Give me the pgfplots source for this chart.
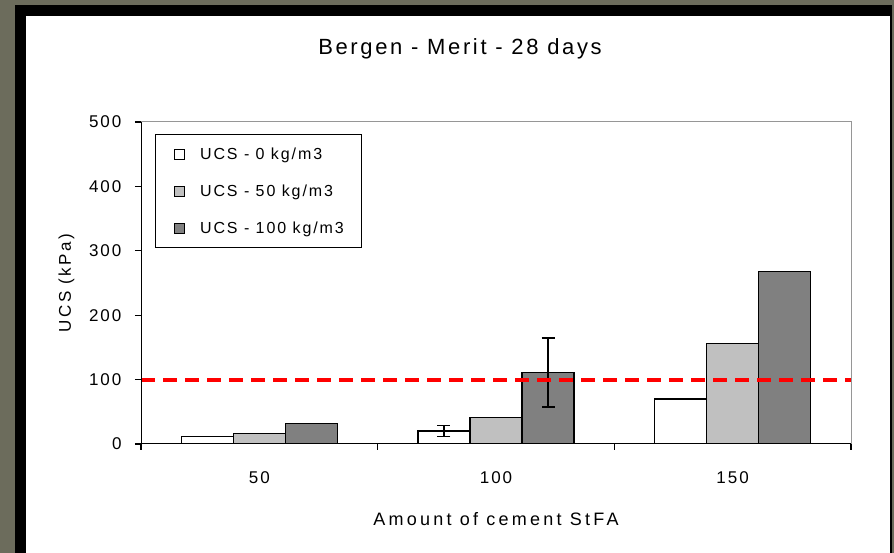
\documentclass[border=0pt]{standalone}
\usepackage{pgfplots}
\pgfplotsset{compat=1.18}
\usepackage{fontspec}
\setmainfont{Liberation Sans}[LetterSpace=12]
\definecolor{frameolive}{RGB}{108,108,92}
\definecolor{lgray}{RGB}{192,192,192}
\definecolor{dgray}{RGB}{128,128,128}
\definecolor{bordgray}{RGB}{150,150,150}
\pgfplotsset{sqlegend/.style={legend image code/.code={\draw[##1,line width=0.9pt] (0pt,-5pt) rectangle (10pt,5pt); \path[draw=none,fill=none] (0pt,0pt) -- (26pt,0pt);}}}
\begin{document}
\begin{tikzpicture}[x=1pt,y=1pt]
\fill[frameolive] (0,0) rectangle (894,553);
\fill[black] (15,0) rectangle (892,548);
\fill[white] (26,0) rectangle (890,537);
\path[use as bounding box] (0,0) rectangle (894,553);
\node[font=\fontsize{22}{25}\selectfont] at (460,504) {Bergen - Merit - 28 days};
\begin{axis}[
  at={(141pt,109pt)}, anchor=south west,
  scale only axis, width=710pt, height=322pt,
  xmin=-0.5, xmax=2.5, ymin=0, ymax=500,
  xtick={0,1,2}, xticklabels={50,100,150},
  minor xtick={-0.5,0.5,1.5,2.5},
  ytick={0,100,...,500},
  tick pos=left, tick align=outside,
  major tick length=6pt, minor tick length=6pt,
  major x tick style={draw=none},
  minor x tick style={black, line width=1.2pt},
  y tick style={black, line width=1.2pt},
  axis line style={bordgray, line width=1pt},
  /pgf/number format/assume math mode=true,
  ticklabel style={font=\fontsize{17}{20}\selectfont},
  xticklabel style={anchor=center, yshift=-28pt},
  yticklabel style={anchor=east, xshift=-10pt},
  ylabel={UCS (kPa)},
  xlabel={Amount of cement StFA},
  every axis y label/.style={at={(axis description cs:-0.105,0.5)}, rotate=90, anchor=center,
    font=\fontsize{17}{20}\selectfont\addfontfeatures{LetterSpace=15}},
  every axis x label/.style={at={(axis description cs:0.5,-0.233)}, anchor=center,
    font=\fontsize{18}{21}\selectfont\addfontfeatures{LetterSpace=18}},
  legend style={at={(rel axis cs:0.0197,0.963)}, anchor=north west, draw=black, line width=1.2pt,
    font=\fontsize{16}{19}\selectfont, row sep=24pt, inner xsep=18pt, inner ysep=13pt,
    nodes={inner sep=0pt}},
  legend cell align=left,
  error bars/error bar style={black, line width=1.3pt},
  error bars/error mark options={black, rotate=90, mark size=6.5pt, line width=1.3pt},
]
\addplot[ybar, bar width=0.22, bar shift=0, fill=white, draw=black, line width=1.3pt, sqlegend]
  coordinates {(-0.22,12) (0.78,20) (1.78,70)};
\addlegendentry{UCS - 0 kg/m3}
\addplot[ybar, bar width=0.22, bar shift=0, fill=lgray, draw=black, line width=1.3pt, sqlegend]
  coordinates {(0,16) (1,41) (2,156)};
\addlegendentry{UCS - 50 kg/m3}
\addplot[ybar, bar width=0.22, bar shift=0, fill=dgray, draw=black, line width=1.3pt, sqlegend]
  coordinates {(0.22,32) (1.22,111) (2.22,268)};
\addlegendentry{UCS - 100 kg/m3}
\addplot[draw=none, mark=none, forget plot, error bars/.cd, y dir=both, y explicit]
  coordinates {(0.78,20) +- (0,8.5) (1.22,111) +- (0,53.5)};
\addplot[red, line width=4pt, dash pattern=on 14pt off 8pt, forget plot] coordinates {(-0.5,100) (2.5,100)};
\draw[black, line width=1.3pt] (rel axis cs:0,0) -- (rel axis cs:0,1);
\draw[black, line width=1.3pt] (rel axis cs:0,0) -- (rel axis cs:1,0);
\end{axis}
\end{tikzpicture}
\end{document}
